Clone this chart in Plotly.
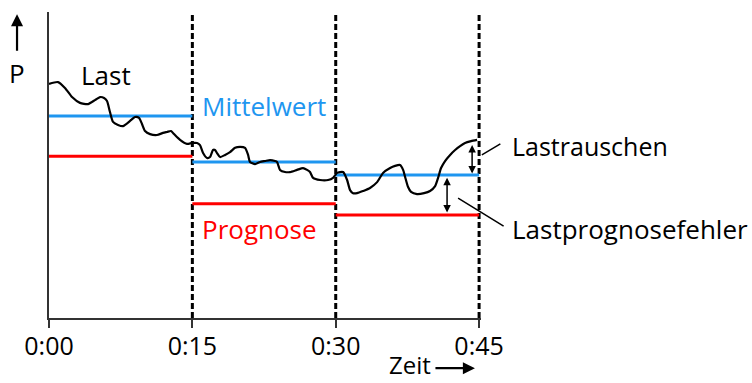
import plotly.graph_objects as go

# ---- data ----
boundaries = [0, 15, 30, 45]
tick_labels = ["0:00", "0:15", "0:30", "0:45"]
mean_values = [66.0, 51.0, 46.7]       # Mittelwert per interval
forecast_values = [52.9, 37.3, 33.7]   # Prognose per interval

load_t = [0, 0.94, 1.67, 2.41, 3.24, 4.08, 4.81, 5.34, 5.76, 6.07, 6.38, 6.70, 7.22, 7.74,
          8.48, 9.00, 9.42, 9.73, 10.05, 10.57, 11.30, 11.93, 12.35, 12.77, 13.08, 13.71,
          14.44, 14.97, 15.49, 15.80, 16.12, 16.53, 16.85, 17.16, 17.37, 17.58, 17.90, 18.42,
          18.94, 19.47, 19.99, 20.51, 20.83, 21.03, 21.56, 22.08, 22.60, 23.13, 23.65, 23.86,
          24.17, 24.70, 25.22, 25.95, 26.58, 27.00, 27.31, 27.63, 28.36, 29.20, 29.72, 30.14,
          30.45, 30.77, 31.19, 31.50, 31.81, 32.23, 32.86, 33.59, 34.33, 34.95, 35.69, 36.21,
          36.73, 37.05, 37.26, 37.57, 37.88, 38.51, 39.24, 39.87, 40.40, 40.71, 41.02, 41.44,
          41.97, 42.49, 43.01, 43.53, 44.16, 44.79]
load_p = [76.5, 77.1, 75.2, 72.2, 70.3, 69.9, 71.2, 72.2, 71.9, 70.9, 67.3, 64.1, 63.1, 62.7,
          64.4, 65.7, 65.4, 63.4, 61.1, 60.1, 59.8, 60.5, 60.8, 61.1, 60.1, 58.2,
          56.9, 57.2, 57.2, 56.5, 53.9, 52.3, 52.6, 54.9, 54.9, 53.9, 52.6, 53.3,
          54.2, 55.6, 55.9, 55.6, 53.3, 51.0, 50.3, 51.0, 51.3, 51.6, 51.3, 51.0,
          48.4, 47.7, 47.7, 48.4, 49.0, 48.4, 47.7, 45.8, 45.1, 45.1, 45.8, 47.4,
          47.7, 47.7, 45.1, 41.8, 40.8, 40.8, 41.5, 42.5, 44.4, 47.4, 49.0, 49.7,
          50.0, 48.4, 46.1, 42.8, 41.2, 40.5, 40.8, 41.5, 43.1, 45.8, 49.0, 51.3,
          53.3, 54.9, 56.2, 57.2, 57.8, 58.2]

BLUE = "#1E96F0"
RED = "#FF0000"
FONT = "Open Sans"
FS = 25
FSA = 26

fig = go.Figure()

# dashed interval boundaries
for b in boundaries[1:]:
    fig.add_trace(go.Scatter(x=[b, b], y=[0, 100], mode="lines",
                             line=dict(color="black", width=3, dash="6px,3px"),
                             hoverinfo="skip"))

# mean and forecast segments
for i in range(3):
    fig.add_trace(go.Scatter(x=[boundaries[i], boundaries[i + 1]], y=[mean_values[i]] * 2,
                             mode="lines", line=dict(color=BLUE, width=3), hoverinfo="skip"))
    fig.add_trace(go.Scatter(x=[boundaries[i], boundaries[i + 1]], y=[forecast_values[i]] * 2,
                             mode="lines", line=dict(color=RED, width=3), hoverinfo="skip"))

# load curve
fig.add_trace(go.Scatter(x=load_t, y=load_p, mode="lines",
                         line=dict(color="black", width=2.2, shape="spline", smoothing=0.6),
                         hoverinfo="skip"))

txt = dict(family=FONT, size=FSA, color="black")
ann = []
ann.append(dict(x=5.97, y=79.4, text="Last", showarrow=False, font=txt,
                xanchor="center", yanchor="middle"))
ann.append(dict(x=15.8, y=69.3, text="Mittelwert", showarrow=False,
                font=dict(family=FONT, size=FSA, color=BLUE), xanchor="left", yanchor="middle"))
ann.append(dict(x=15.8, y=29.0, text="Prognose", showarrow=False,
                font=dict(family=FONT, size=FSA, color=RED), xanchor="left", yanchor="middle"))
# labels outside the plot area (paper coordinates)
P = dict(xref="paper", yref="paper")
ann.append(dict(x=1.067, y=0.562, text="Lastrauschen", showarrow=False,
                font=dict(family=FONT, size=25, color="black"),
                xanchor="left", yanchor="middle", **P))
ann.append(dict(x=1.067, y=0.291, text="Lastprognosefehler", showarrow=False, font=txt,
                xanchor="left", yanchor="middle", **P))
ann.append(dict(x=-0.074, y=0.801, text="P", showarrow=False, font=txt,
                xanchor="center", yanchor="middle", **P))
ann.append(dict(x=0.836, y=-0.2124, text="Zeit", showarrow=False,
                font=dict(family=FONT, size=24, color="black"),
                xanchor="center", yanchor="bottom", **P))

arrow_px = dict(text="", showarrow=True, arrowcolor="black", standoff=0, startstandoff=0)
# P arrow
ann.append(dict(x=-0.074, y=0.993, ax=0, ay=38, arrowhead=2, arrowsize=1.1, arrowwidth=2.2,
                **P, **arrow_px))
# Zeit arrow
ann.append(dict(x=0.986, y=-0.164, ax=-41, ay=0, arrowhead=2, arrowsize=1.1, arrowwidth=2.2,
                **P, **arrow_px))
# leader lines
ann.append(dict(x=1.002, y=0.533, ax=20, ay=-12, arrowhead=0, arrowwidth=1.5, **P, **arrow_px))
ann.append(dict(x=0.947, y=0.392, ax=47, ay=29, arrowhead=0, arrowwidth=1.5, **P, **arrow_px))

# double arrows in data coordinates
arrow_common = dict(text="", showarrow=True, axref="x", ayref="y", arrowcolor="black",
                    standoff=0, startstandoff=0)
ann.append(dict(x=44.27, y=56.5, ax=44.27, ay=46.7, arrowhead=2, startarrowhead=2,
                arrowside="end+start", arrowsize=1, arrowwidth=1.5, **arrow_common))
ann.append(dict(x=41.65, y=45.8, ax=41.65, ay=34.0, arrowhead=2, startarrowhead=2,
                arrowside="end+start", arrowsize=1, arrowwidth=1.5, **arrow_common))

fig.update_layout(
    width=752, height=383,
    margin=dict(l=49, r=271, t=12, b=65),
    paper_bgcolor="white", plot_bgcolor="white",
    showlegend=False,
    annotations=ann,
    xaxis=dict(range=[0, 45.2], tickvals=boundaries, ticktext=tick_labels,
               showline=True, linecolor="#333333", linewidth=1.5,
               ticks="outside", ticklen=8, tickwidth=1.5, tickcolor="#333333",
               ticklabelstandoff=-3,
               showgrid=False, zeroline=False,
               tickfont=dict(family=FONT, size=FS, color="black")),
    yaxis=dict(range=[0, 100], showline=True, linecolor="#333333", linewidth=1.5,
               showticklabels=False, ticks="", showgrid=False, zeroline=False),
)

fig.write_html("out.html", config={"displayModeBar": False},
               post_script="document.body.style.margin='0';")
